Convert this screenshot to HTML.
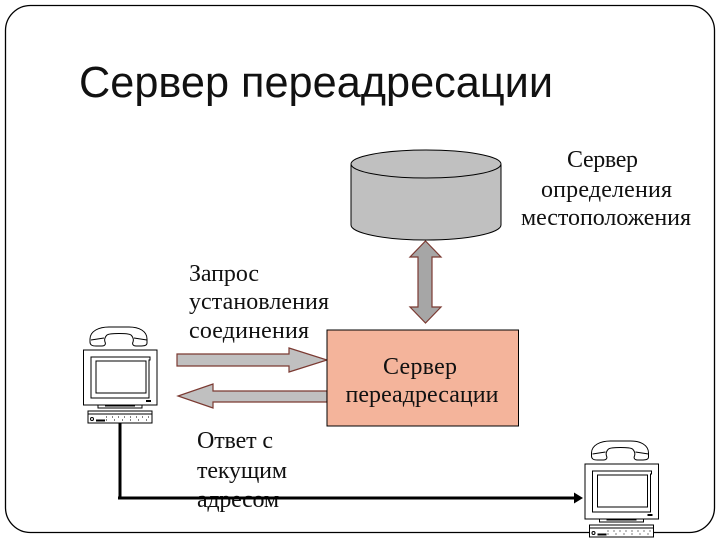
<!DOCTYPE html>
<html><head><meta charset="utf-8"><style>
html,body{margin:0;padding:0;background:#fff;width:720px;height:540px;overflow:hidden}
svg{display:block}
.s{font-family:"Liberation Serif",serif;font-size:24px;fill:#111}
.t{font-family:"Liberation Sans",sans-serif;font-size:44px;fill:#111}
</style></head><body>
<svg width="720" height="540" viewBox="0 0 720 540" xmlns="http://www.w3.org/2000/svg">
<defs>
<g id="pc">
  <path d="M90 339 C90 331 99 327 109 327 H129 C139 327 147 331 147 339 L147 343 C147 346 143 346 140 346 H136 C133 346 132 344 133 342 C134 339 133 337 131 335 C128 333 110 333 107 335 C105 337 104 339 105 342 C106 344 105 346 102 346 H96 C92 346 90 345 90 342 Z" fill="#fff" stroke="#000" stroke-width="1"/>
  <path d="M91 340 L104 338 M134 338 L147 340" stroke="#000" stroke-width="1"/>
  <rect x="83.500" y="350" width="73.500" height="55" fill="#fff" stroke="#000" stroke-width="1"/>
  <path d="M91 398 V357 H150 V360 H149 V398 Z" fill="none" stroke="#000" stroke-width="1"/>
  <rect x="96" y="361" width="50" height="32" fill="#fff" stroke="#000" stroke-width="1"/>
  <rect x="146" y="400" width="5" height="2" fill="#000"/>
  <path d="M98 405 L98 408 H142 L142 405 M105 406 H135" fill="none" stroke="#000" stroke-width="1"/>
  <rect x="88" y="411" width="64" height="12" fill="#fff" stroke="#000" stroke-width="1"/>
  <path d="M88 414 H152" stroke="#000" stroke-width="1"/>
  <path d="M96 420.500 H105" stroke="#000" stroke-width="2"/>
  <path d="M106 417 H150" stroke="#000" stroke-width="1" stroke-dasharray="1 5"/>
  <path d="M106 420 H150" stroke="#000" stroke-width="1" stroke-dasharray="1 7"/>
  <circle cx="92" cy="419" r="1.500" fill="none" stroke="#000" stroke-width="1"/>
</g>
</defs>
<rect x="5.500" y="5.500" width="709" height="527" rx="25" ry="25" fill="#fff" stroke="#000" stroke-width="1.300"/>
<text class="t" x="79" y="97" textLength="474" lengthAdjust="spacingAndGlyphs">Сервер переадресации</text>

<path d="M351 165 V225 C351 233 384 240 426 240 C468 240 501 233 501 225 V165 Z" fill="#c0c0c0" stroke="#000" stroke-width="1"/>
<ellipse cx="426" cy="164" rx="75" ry="14" fill="#c0c0c0" stroke="#000" stroke-width="1"/>

<path d="M425.500 241 L441 257 H432 V307 H441 L425.500 323 L410 307 H418 V257 H410 Z" fill="#a6a6a6" stroke="#7b3a32" stroke-width="1.200"/>
<path d="M177 354 H289 V348 L327 360 L289 372 V366 H177 Z" fill="#c0c0c0" stroke="#7b3a32" stroke-width="1.200"/>
<path d="M327 391 H213 V384 L178 396 L213 408 V402 H327 Z" fill="#c0c0c0" stroke="#7b3a32" stroke-width="1.200"/>

<rect x="327" y="330" width="191.500" height="96" fill="#f4b49b" stroke="#000" stroke-width="1"/>

<text class="s" x="602.500" y="167" text-anchor="middle" textLength="71">Сервер</text>
<text class="s" x="606.500" y="197" text-anchor="middle" textLength="131">определения</text>
<text class="s" x="606" y="225" text-anchor="middle" textLength="170">местоположения</text>
<text class="s" x="189" y="281" textLength="70">Запрос</text>
<text class="s" x="189" y="309" textLength="140">установления</text>
<text class="s" x="189" y="338" textLength="120">соединения</text>
<text class="s" x="420" y="374" text-anchor="middle" textLength="74">Сервер</text>
<text class="s" x="422" y="402" text-anchor="middle" textLength="153">переадресации</text>
<text class="s" x="197" y="448" textLength="76">Ответ с</text>
<text class="s" x="197" y="478" textLength="90">текущим</text>
<text class="s" x="197" y="507" textLength="82">адресом</text>

<use href="#pc"/>
<use href="#pc" transform="translate(501.500,114)"/>

<path d="M120 423 V498 M118 498 H575" fill="none" stroke="#000" stroke-width="3"/>
<path d="M574 492.500 L583 498 L574 503.500 Z" fill="#000"/>
</svg>
</body></html>
